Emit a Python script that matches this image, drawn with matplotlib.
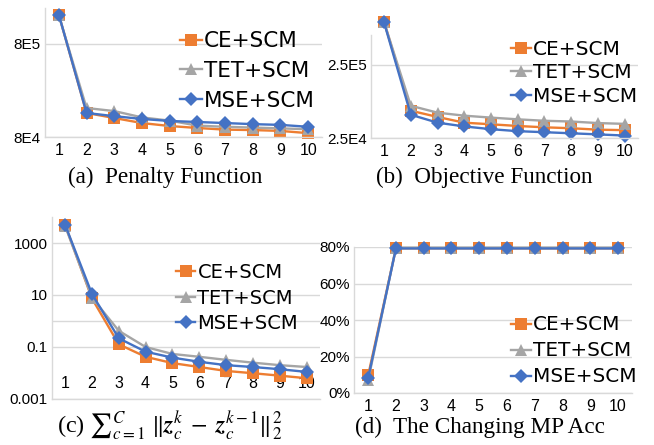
import matplotlib
matplotlib.use('Agg')
import matplotlib.pyplot as plt
from matplotlib.ticker import FixedLocator, NullLocator, FixedFormatter

W, H = 654, 445
plt.rcParams['font.family'] = ['Liberation Sans', 'DejaVu Sans']
plt.rcParams['mathtext.fontset'] = 'stix'

iters = list(range(1, 11))
series_names = ['CE+SCM', 'TET+SCM', 'MSE+SCM']
colors = ['#ED7D31', '#A5A5A5', '#4472C4']
markers = ['s', '^', 'D']
msizes = [8, 8.5, 6.8]

penalty_ce = [1.65e6, 1.45e5, 1.28e5, 1.13e5, 1.05e5, 1.0e5, 9.6e4, 9.5e4, 9.3e4, 8.8e4]
penalty_tet = [1.62e6, 1.64e5, 1.52e5, 1.30e5, 1.20e5, 1.06e5, 1.03e5, 1.01e5, 9.9e4, 9.7e4]
penalty_mse = [1.65e6, 1.45e5, 1.34e5, 1.25e5, 1.19e5, 1.16e5, 1.13e5, 1.10e5, 1.08e5, 1.03e5]

objective_ce = [9.7e5, 5.9e4, 4.85e4, 4.05e4, 3.85e4, 3.65e4, 3.5e4, 3.4e4, 3.25e4, 3.2e4]
objective_tet = [9.6e5, 6.9e4, 5.55e4, 5.05e4, 4.75e4, 4.5e4, 4.3e4, 4.2e4, 4.0e4, 3.9e4]
objective_mse = [9.5e5, 5.2e4, 4.05e4, 3.6e4, 3.3e4, 3.1e4, 3.0e4, 2.9e4, 2.8e4, 2.7e4]

zdiff_ce = [5000, 7.4, 0.127, 0.042, 0.024, 0.017, 0.012, 0.0098, 0.0079, 0.0063]
zdiff_tet = [4500, 8.0, 0.42, 0.10, 0.054, 0.042, 0.032, 0.025, 0.020, 0.017]
zdiff_mse = [5000, 11.0, 0.216, 0.066, 0.039, 0.027, 0.020, 0.017, 0.014, 0.011]

mpacc_ce = [0.097, 0.793, 0.793, 0.793, 0.793, 0.793, 0.793, 0.793, 0.793, 0.793]
mpacc_tet = [0.070, 0.797, 0.797, 0.797, 0.797, 0.797, 0.797, 0.797, 0.797, 0.797]
mpacc_mse = [0.083, 0.792, 0.792, 0.792, 0.792, 0.792, 0.792, 0.792, 0.792, 0.792]

ticks_a = [8e4, 8e5]
ticklabels_a = ['8E4', '8E5']
ticks_b = [2.5e4, 2.5e5]
ticklabels_b = ['2.5E4', '2.5E5']
ticks_c = [0.001, 0.1, 10, 1000]
ticklabels_c = ['0.001', '0.1', '10', '1000']
ticks_d = [0, 0.2, 0.4, 0.6, 0.8]
ticklabels_d = ['0%', '20%', '40%', '60%', '80%']

captions = ['(a)  Penalty Function', '(b)  Objective Function',
            r'(c) ${\sum}_{c=1}^{C}\;\|\boldsymbol{z}_c^k\;-\;\boldsymbol{z}_c^{k-1}\|_2^2$',
            '(d)  The Changing MP Acc']

GRID = '#D9D9D9'

fig = plt.figure(figsize=(W / 100, H / 100), dpi=100)


def px_axes(l, r, t, b):
    return fig.add_axes([l / W, 1 - b / H, (r - l) / W, (b - t) / H])


def style(ax, ticks, labels, log=True):
    if log:
        ax.set_yscale('log')
    ax.yaxis.set_major_locator(FixedLocator(ticks))
    ax.yaxis.set_major_formatter(FixedFormatter(labels))
    ax.yaxis.set_minor_locator(NullLocator())
    ax.set_xlim(0.5, 10.5)
    ax.set_xticks(iters)
    ax.set_xticklabels([str(i) for i in iters])
    for s in ['top', 'right']:
        ax.spines[s].set_visible(False)
    for s in ['left', 'bottom']:
        ax.spines[s].set_color(GRID)
        ax.spines[s].set_linewidth(1.0)
    ax.tick_params(axis='both', length=0, colors='black', labelsize=11)
    ax.tick_params(axis='y', pad=3)
    ax.tick_params(axis='x', pad=4, labelsize=11.5)
    ax.grid(axis='y', color=GRID, lw=1.0)
    ax.set_axisbelow(True)


def draw(ax, data):
    for vals, name, c, m, ms in zip(data, series_names, colors, markers, msizes):
        ax.plot(iters, vals, color=c, marker=m, ms=ms, lw=1.7, label=name,
                clip_on=False, markeredgewidth=0)


def legend(ax, x, y, size, spacing):
    ax.legend(loc='center left', bbox_to_anchor=(x / W, 1 - y / H),
              bbox_transform=fig.transFigure, frameon=False,
              prop={'family': 'DejaVu Sans', 'size': size},
              handlelength=1.0, handletextpad=0.1, labelspacing=spacing,
              borderpad=0, borderaxespad=0, numpoints=1)


# (a)
ax = px_axes(45, 322, 8, 137)
style(ax, ticks_a, ticklabels_a)
ax.set_ylim(8e4, 1.95e6)
draw(ax, [penalty_ce, penalty_tet, penalty_mse])
legend(ax, 180, 71, 15.5, 0.45)

# (b)
ax = px_axes(370.7, 638, 35, 138)
style(ax, ticks_b, ticklabels_b)
ax.set_ylim(2.5e4, 6.4e5)
draw(ax, [objective_ce, objective_tet, objective_mse])
legend(ax, 511, 73, 14.5, 0.22)

# (c)
ax = px_axes(51.7, 320, 217, 399)
style(ax, ticks_c, ticklabels_c)
ax.set_ylim(0.001, 10000)
ax.axhline(1, color=GRID, lw=1.0, zorder=0)
ax.spines['bottom'].set_position(('data', 0.01))
ax.spines['bottom'].set_color('none')
ax.tick_params(axis='x', pad=2)
ax.plot([0.5, 10.5], [0.001, 0.001], color=GRID, lw=1.0, clip_on=False, zorder=0)
draw(ax, [zdiff_ce, zdiff_tet, zdiff_mse])
legend(ax, 176, 298, 14.0, 0.33)

# (d)
ax = px_axes(354.3, 632, 247, 393)
style(ax, ticks_d, ticklabels_d, log=False)
ax.set_ylim(0, 0.8)
draw(ax, [mpacc_ce, mpacc_tet, mpacc_mse])
legend(ax, 511, 351, 14.4, 0.35)

cap_pos = [(165, 177), (484, 177), (170, 425), (480, 427)]
cap_sizes = [16.7, 16.7, 17.5, 16.7]
for (x, y), text, sz in zip(cap_pos, captions, cap_sizes):
    fig.text(x / W, 1 - y / H, text, ha='center', va='center',
             family=['Liberation Serif', 'DejaVu Serif'], size=sz)

fig.savefig('out.png', dpi=100)
